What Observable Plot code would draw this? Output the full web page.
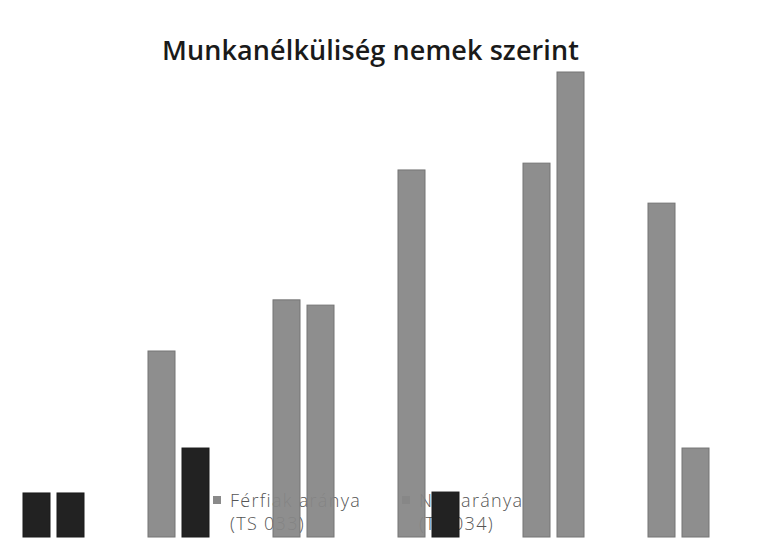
<!DOCTYPE html>
<html>
<head>
<meta charset="utf-8">
<script src="https://cdn.jsdelivr.net/npm/d3@7"></script>
<script src="https://cdn.jsdelivr.net/npm/@observablehq/plot@0.6"></script>
<style>
  html, body { margin: 0; padding: 0; background: #fff; }
  #wrap { position: relative; width: 758px; height: 550px; overflow: hidden; }
  #title { height: 68px; box-sizing: border-box; padding-top: 37px; padding-right: 17px;
           text-align: center; font-family: "Open Sans", sans-serif; font-weight: 600;
           font-size: 27px; line-height: 25px; color: #1a1a1a; letter-spacing: 0.1px; }
  #chart { position: relative; z-index: 1; }
  .leg { position: absolute; z-index: 0; top: 489px; font-family: "Open Sans", sans-serif;
         font-weight: 300; font-size: 18px; line-height: 23px; color: #555; letter-spacing: 1.3px; white-space: nowrap; }
  .leg .sw { position: absolute; left: -17px; top: 7px; width: 8px; height: 8px; background: #8a8a8a; }
</style>
</head>
<body>
<div id="wrap">
  <div id="title"></div>
  <div id="chart"></div>
</div>
<script>
const title = "Munkanélküliség nemek szerint";
const categories = ["1", "2", "3", "4", "5", "6"];
const series = ["Férfiak aránya (TS 033)", "Nők aránya (TS 034)"];
const ferfiak = [1.42, 6.0, 7.65, 11.84, 12.06, 10.77];
const nok = [1.42, 2.87, 7.48, 1.45, 15.0, 2.87];
// bars that appear blacked out in the scanned original
const ferfiakTakart = [true, false, false, false, false, false];
const nokTakart = [true, true, false, true, false, false];

document.getElementById("title").textContent = title;

const rows = [];
categories.forEach((c, i) => {
  rows.push({kat: c, sor: series[0], ertek: ferfiak[i], allapot: ferfiakTakart[i] ? "takart" : "látható"});
  rows.push({kat: c, sor: series[1], ertek: nok[i], allapot: nokTakart[i] ? "takart" : "látható"});
});

const chart = Plot.plot({
  width: 758,
  height: 482,
  marginTop: 4,
  marginBottom: 13,
  marginLeft: 0,
  marginRight: 0,
  style: {background: "transparent", overflow: "visible"},
  fx: {domain: categories, range: [-11, 743], padding: 0, axis: null},
  x: {domain: series, paddingInner: 0.2, paddingOuter: 0.9, axis: null},
  y: {domain: [0, 15], axis: null},
  color: {domain: ["látható", "takart"], range: ["#878787", "#222222"]},
  marks: [
    Plot.barY(rows, {
      fx: "kat", x: "sor", y: "ertek", fill: "allapot",
      fillOpacity: d => d.allapot === "takart" ? 1 : 0.94,
      stroke: d => d.allapot === "takart" ? "#1a1a1a" : "#747474",
      strokeWidth: 1
    })
  ]
});
document.getElementById("chart").appendChild(chart);

const lefts = [230, 419];
series.forEach((s, i) => {
  const k = s.indexOf(" (");
  const div = document.createElement("div");
  div.className = "leg";
  div.style.left = lefts[i] + "px";
  div.innerHTML = '<span class="sw"></span>' + s.slice(0, k) + "<br>" + s.slice(k + 1);
  document.getElementById("wrap").appendChild(div);
});
</script>
</body>
</html>
